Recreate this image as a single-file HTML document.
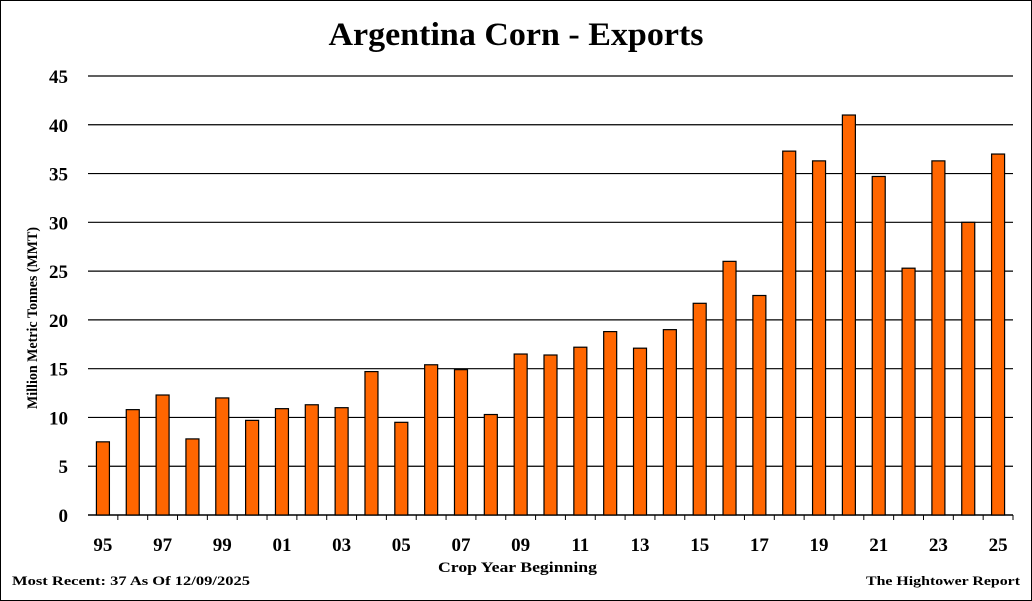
<!DOCTYPE html>
<html><head><meta charset="utf-8"><style>
html,body{margin:0;padding:0;background:#fff}
svg{display:block}
text{font-family:"Liberation Serif",serif;font-weight:bold}
</style></head><body>
<svg id="chart" width="1032" height="601" xmlns="http://www.w3.org/2000/svg">
<rect x="0.5" y="0.5" width="1031" height="600" fill="#fff" stroke="#000"/>
<text x="516" y="45" font-size="33" text-anchor="middle" textLength="375" lengthAdjust="spacingAndGlyphs">Argentina Corn - Exports</text>
<g id="grid"></g>
<g id="bars"></g>
<g id="ylabels"></g>
<g id="xlabels"></g>
<text transform="translate(37,318) rotate(-90)" font-size="15" text-anchor="middle" textLength="182" lengthAdjust="spacingAndGlyphs">Million Metric Tonnes (MMT)</text>
<text x="438" y="572" font-size="15" textLength="159" lengthAdjust="spacingAndGlyphs">Crop Year Beginning</text>
<text x="12" y="585" font-size="13" textLength="238" lengthAdjust="spacingAndGlyphs">Most Recent: 37 As Of 12/09/2025</text>
<text x="866" y="585" font-size="13" textLength="154" lengthAdjust="spacingAndGlyphs">The Hightower Report</text>
</svg>
<script>
const categories=["95","96","97","98","99","00","01","02","03","04","05","06","07","08","09","10","11","12","13","14","15","16","17","18","19","20","21","22","23","24","25"];
const exportsValues=[7.5,10.8,12.3,7.8,12,9.7,10.9,11.3,11,14.7,9.5,15.4,14.9,10.3,16.5,16.4,17.2,18.8,17.1,19,21.7,26,22.5,37.3,36.3,41,34.7,25.3,36.3,30,37];
const yTicks=[0,5,10,15,20,25,30,35,40,45];
const NS="http://www.w3.org/2000/svg";
const L=88,R=1013,T=76,B=515,YMAX=45;
const y=v=>B-(v/YMAX)*(B-T);
const band=(R-L)/categories.length;
const xc=i=>L+band*(i+0.5);
function mk(tag,attrs,parent){const e=document.createElementNS(NS,tag);for(const k in attrs)e.setAttribute(k,attrs[k]);parent.appendChild(e);return e;}
const grid=document.getElementById('grid'),bars=document.getElementById('bars'),yl=document.getElementById('ylabels'),xl=document.getElementById('xlabels');
yTicks.forEach(t=>{
  const ln=mk('line',{x1:L,x2:R,y1:y(t),y2:y(t),stroke:'#000','stroke-width':t===0?1.5:1.2},grid);
  
  
  const tx=mk('text',{x:68,y:y(t)+7,'font-size':19,'text-anchor':'end'},yl);
  tx.textContent=t;
  
  
});
const bw=13;
exportsValues.forEach((v,i)=>{
  const r=mk('rect',{x:xc(i)-bw/2,y:y(v),width:bw,height:B-y(v),fill:'#FF6600',stroke:'#000','stroke-width':1.2},bars);
  
  
  const tk=mk('line',{x1:L+band*(i+1),x2:L+band*(i+1),y1:B,y2:B+5,stroke:'#000'},grid);
  
  
  if(i%2===0){
    const tx=mk('text',{x:xc(i),y:551,'font-size':19,'text-anchor':'middle'},xl);
    tx.textContent=categories[i];
    
    
  }
});
</script>
</body></html>
